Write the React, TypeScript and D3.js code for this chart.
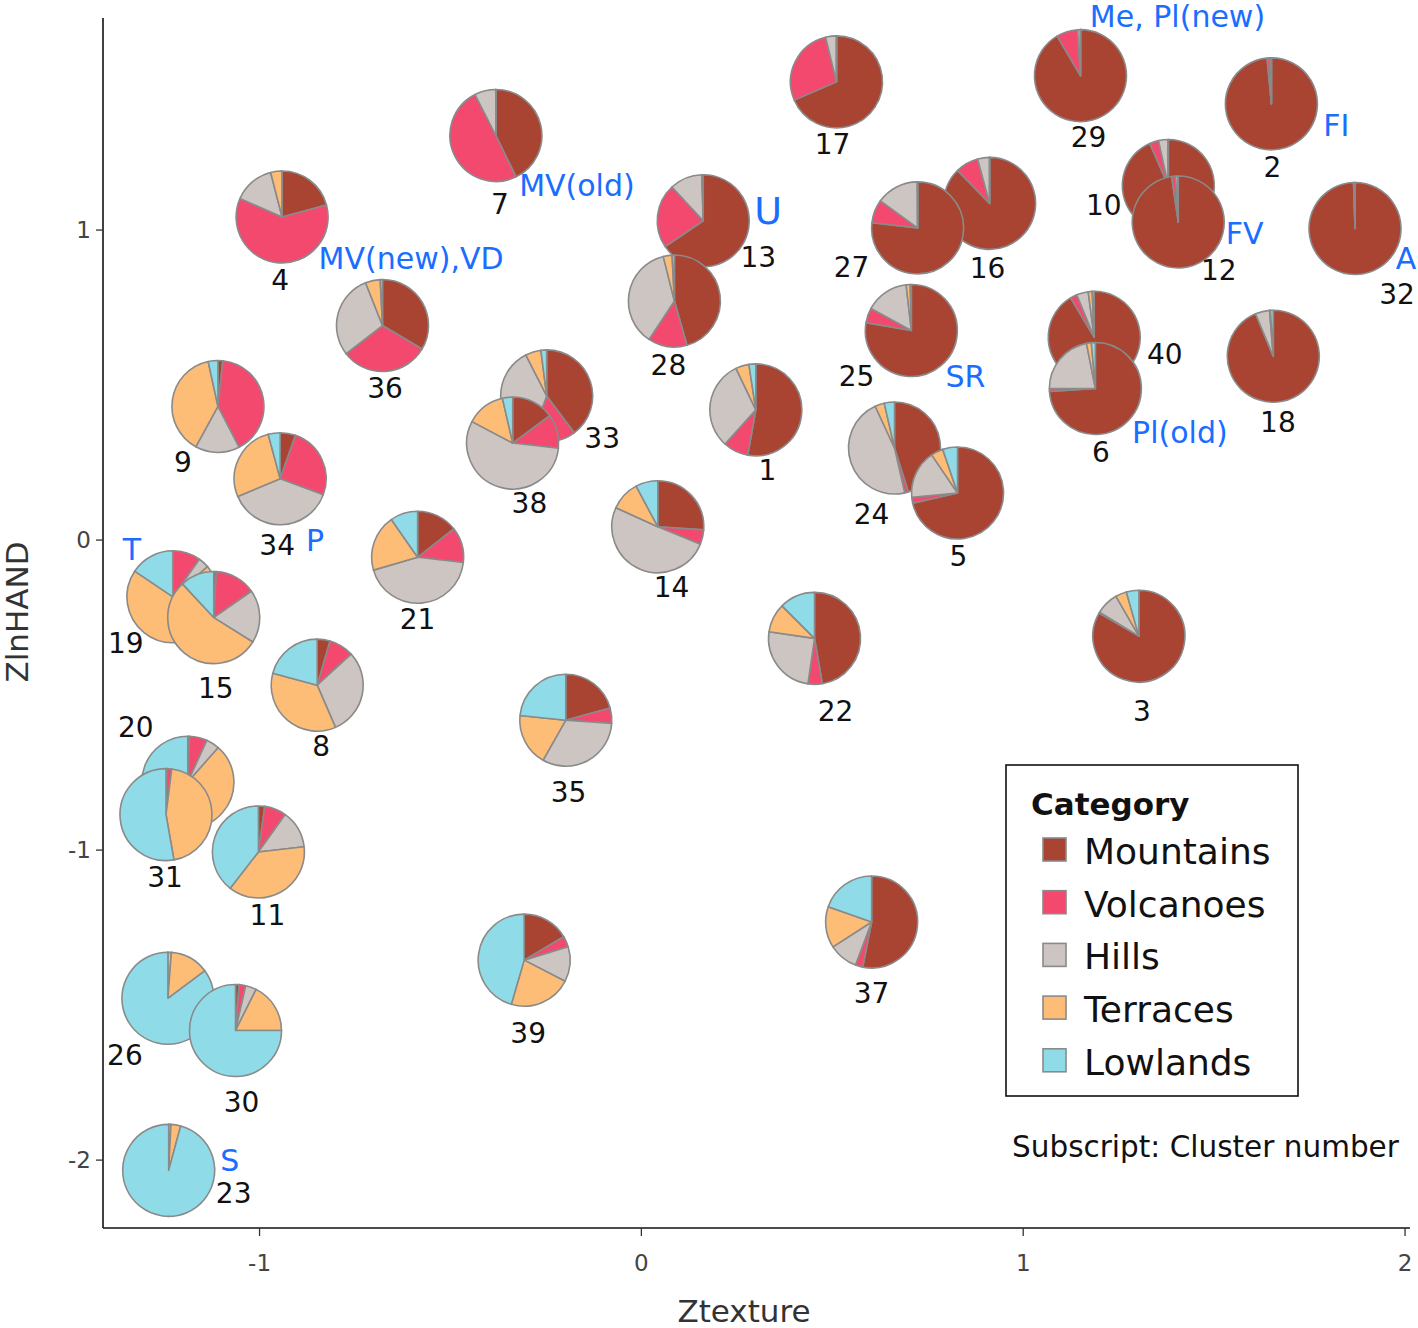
import React from "react";
import * as d3 from "d3";

const categories = ["Mountains", "Volcanoes", "Hills", "Terraces", "Lowlands"];
const categoryColors = ["#a94432", "#f4496f", "#cdc5c2", "#fdbd76", "#8fdce8"];

// drawing order (later pies overlap earlier ones)
const clusters = [16, 27, 10, 12, 40, 6, 33, 38, 24, 5, 26, 30, 19, 15, 20, 31, 13, 28, 34, 9, 1, 2, 3, 4, 7, 8, 11, 14, 17, 18, 21, 22, 23, 25, 29, 32, 35, 36, 37, 39];
const zTexture = [0.912, 0.7235, 1.38, 1.406, 1.186, 1.189, -0.248, -0.337, 0.663, 0.828, -1.24, -1.063, -1.227, -1.12, -1.188, -1.245, 0.162, 0.0865, -0.946, -1.109, 0.2997, 1.65, 1.303, -0.941, -0.381, -0.849, -1.003, 0.043, 0.511, 1.655, -0.586, 0.4535, -1.238, 0.707, 1.15, 1.869, -0.198, -0.678, 0.603, -0.307];
const zLnHand = [1.086, 1.007, 1.1435, 1.026, 0.654, 0.489, 0.465, 0.313, 0.297, 0.152, -1.478, -1.582, -0.183, -0.25, -0.781, -0.8855, 1.03, 0.771, 0.198, 0.431, 0.42, 1.407, -0.31, 1.042, 1.305, -0.468, -1.006, 0.043, 1.478, 0.593, -0.0555, -0.317, -2.033, 0.676, 1.498, 1.005, -0.581, 0.692, -1.232, -1.355];
const mountains = [0.877, 0.768, 0.934, 0.977, 0.914, 0.739, 0.398, 0.149, 0.451, 0.714, 0, 0.013, 0, 0.009, 0.006, 0.003, 0.655, 0.456, 0.054, 0.017, 0.528, 0.985, 0.834, 0.208, 0.428, 0.045, 0.022, 0.261, 0.685, 0.937, 0.144, 0.473, 0, 0.7775, 0.915, 0.995, 0.207, 0.335, 0.531, 0.165];
const volcanoes = [0.081, 0.082, 0.032, 0.014, 0.024, 0.01, 0.158, 0.119, 0.013, 0.021, 0, 0.023, 0.098, 0.144, 0.062, 0.017, 0.226, 0.137, 0.253, 0.407, 0.089, 0.01, 0.003, 0.608, 0.497, 0.087, 0.077, 0.051, 0.277, 0, 0.124, 0.05, 0, 0.052, 0.075, 0, 0.054, 0.31, 0.026, 0.038];
const hills = [0.042, 0.149, 0.033, 0.009, 0.041, 0.219, 0.369, 0.559, 0.466, 0.17, 0.012, 0.038, 0.038, 0.186, 0.047, 0, 0.114, 0.368, 0.38, 0.156, 0.312, 0.005, 0.08, 0.144, 0.075, 0.303, 0.133, 0.506, 0.038, 0.05, 0.437, 0.25, 0.008, 0.1525, 0.01, 0.005, 0.321, 0.295, 0.102, 0.123];
const terraces = [0, 0.001, 0.001, 0, 0.014, 0.017, 0.055, 0.137, 0.033, 0.043, 0.136, 0.176, 0.708, 0.542, 0.5, 0.4525, 0.005, 0.031, 0.271, 0.386, 0.047, 0, 0.039, 0.04, 0, 0.357, 0.373, 0.104, 0, 0.003, 0.198, 0.102, 0.034, 0.014, 0, 0, 0.184, 0.052, 0.145, 0.219];
const lowlands = [0, 0, 0, 0, 0.007, 0.014, 0.02, 0.036, 0.036, 0.052, 0.852, 0.75, 0.156, 0.119, 0.385, 0.5275, 0, 0.008, 0.042, 0.034, 0.024, 0, 0.044, 0, 0, 0.208, 0.395, 0.078, 0, 0.01, 0.097, 0.125, 0.958, 0.004, 0, 0, 0.234, 0.008, 0.196, 0.455];

// cluster-number label offsets from pie centre (px)
const labelDx = [-2, -66, -64.5, 40.5, 70.5, 5.5, 55.5, 16.7, -23, 1, -43, 6, -47, 2, -52, -1, 55, -6, -3, -35, 11.7, 1, 3, -2, 4, 4, 9, 13.7, -4, 4.6, 0, 21, 65, -54.7, 8, 42, 2.7, 2.5, 0, 4];
const labelDy = [65, 40, 19.5, 49, 17, 64.5, 43, 60, 67, 64, 57, 72, 47, 70.5, -55, 62.5, 37, 64, 66.5, 56, 61, 64, 75, 63, 69.5, 61, 64, 61, 63, 66, 62, 73, 23, 46.5, 61.5, 66, 72, 62.5, 71, 73];

// blue landform annotations
const annotationText = ["Me, Pl(new)", "FI", "MV(old)", "U", "MV(new),VD", "FV", "A", "SR", "Pl(old)", "P", "T", "S"];
const annotationCluster = [29, 2, 7, 13, 4, 12, 32, 25, 6, 34, 19, 23];
const annotationDx = [97, 65, 81, 65, 129, 66.5, 51, 54, 84.5, 35, -41, 61];
const annotationDy = [-59, 22, 50, -10, 41, 12, 30, 46.5, 44.5, 61.5, -47, -10];
const annotationSize = [30, 30, 30, 38, 30, 30, 30, 30, 30, 30, 30, 30];

const xTicks = [-1, 0, 1, 2];
const yTicks = [1, 0, -1, -2];

const W = 1418;
const H = 1328;
const R = 46;
const FONT = "'DejaVu Sans', Verdana, sans-serif";

export default function App() {
  const x = d3.scaleLinear().domain([-1.41, 2.013]).range([103, 1410]);
  const y = d3.scaleLinear().domain([-2.219, 1.684]).range([1228, 18]);
  const pieGen = d3.pie<number>().sort(null).value((d) => d);
  const arcGen = d3.arc<d3.PieArcDatum<number>>().innerRadius(0).outerRadius(R);

  const pies = clusters.map((c, i) => ({
    id: c,
    cx: x(zTexture[i]),
    cy: y(zLnHand[i]),
    vals: [mountains[i], volcanoes[i], hills[i], terraces[i], lowlands[i]],
    ldx: labelDx[i],
    ldy: labelDy[i],
  }));
  const byId = new Map(pies.map((p) => [p.id, p]));

  return (
    <svg width={W} height={H} style={{ position: "absolute", left: 0, top: 0, background: "#fff" }} fontFamily={FONT}>
      <rect x={0} y={0} width={W} height={H} fill="#fff" />
      {/* pies */}
      {pies.map((p) => (
        <g key={p.id} transform={`translate(${p.cx},${p.cy})`}>
          {pieGen(p.vals).map((a, k) => (
            <path key={k} d={arcGen(a) || ""} fill={categoryColors[k]} stroke="#8a8a8a" strokeWidth={1.6} strokeLinejoin="round" />
          ))}
        </g>
      ))}
      {/* cluster labels */}
      {pies.map((p) => (
        <text key={"l" + p.id} x={p.cx + p.ldx} y={p.cy + p.ldy} textAnchor="middle" dominantBaseline="central" fontSize={28} fill="#111">
          {p.id}
        </text>
      ))}
      {/* annotations */}
      {annotationText.map((t, i) => {
        const p = byId.get(annotationCluster[i])!;
        return (
          <text key={"a" + i} x={p.cx + annotationDx[i]} y={p.cy + annotationDy[i]} textAnchor="middle" dominantBaseline="central" fontSize={annotationSize[i]} fill="#1a6dff">
            {t}
          </text>
        );
      })}
      {/* axes */}
      <line x1={103} y1={18} x2={103} y2={1228} stroke="#111" strokeWidth={1.6} />
      <line x1={103} y1={1228} x2={1410} y2={1228} stroke="#111" strokeWidth={1.6} />
      {xTicks.map((t) => (
        <g key={"xt" + t}>
          <line x1={x(t)} y1={1228} x2={x(t)} y2={1236} stroke="#333" strokeWidth={1.3} />
          <text x={x(t)} y={1263} textAnchor="middle" dominantBaseline="central" fontSize={23} fill="#444">
            {t}
          </text>
        </g>
      ))}
      {yTicks.map((t) => (
        <g key={"yt" + t}>
          <line x1={96} y1={y(t)} x2={103} y2={y(t)} stroke="#333" strokeWidth={1.3} />
          <text x={91} y={y(t)} textAnchor="end" dominantBaseline="central" fontSize={23} fill="#444">
            {t}
          </text>
        </g>
      ))}
      <text x={744} y={1311} textAnchor="middle" dominantBaseline="central" fontSize={31} fill="#333">
        Ztexture
      </text>
      <text transform={`translate(17,612) rotate(-90)`} textAnchor="middle" dominantBaseline="central" fontSize={31} fill="#333">
        ZlnHAND
      </text>
      {/* legend */}
      <rect x={1006} y={765} width={292} height={331} fill="#fff" stroke="#111" strokeWidth={1.6} />
      <text x={1031} y={815} fontSize={31} fontWeight="bold" fill="#111">
        Category
      </text>
      {categories.map((c, i) => (
        <g key={"lg" + c}>
          <rect x={1043} y={838 + i * 52.7} width={23} height={23} fill={categoryColors[i]} stroke="#8a8a8a" strokeWidth={1.6} />
          <text x={1084} y={864 + i * 52.7} fontSize={36} fill="#111">
            {c}
          </text>
        </g>
      ))}
      <text x={1012} y={1157} fontSize={29.5} fill="#111">
        Subscript: Cluster number
      </text>
    </svg>
  );
}
